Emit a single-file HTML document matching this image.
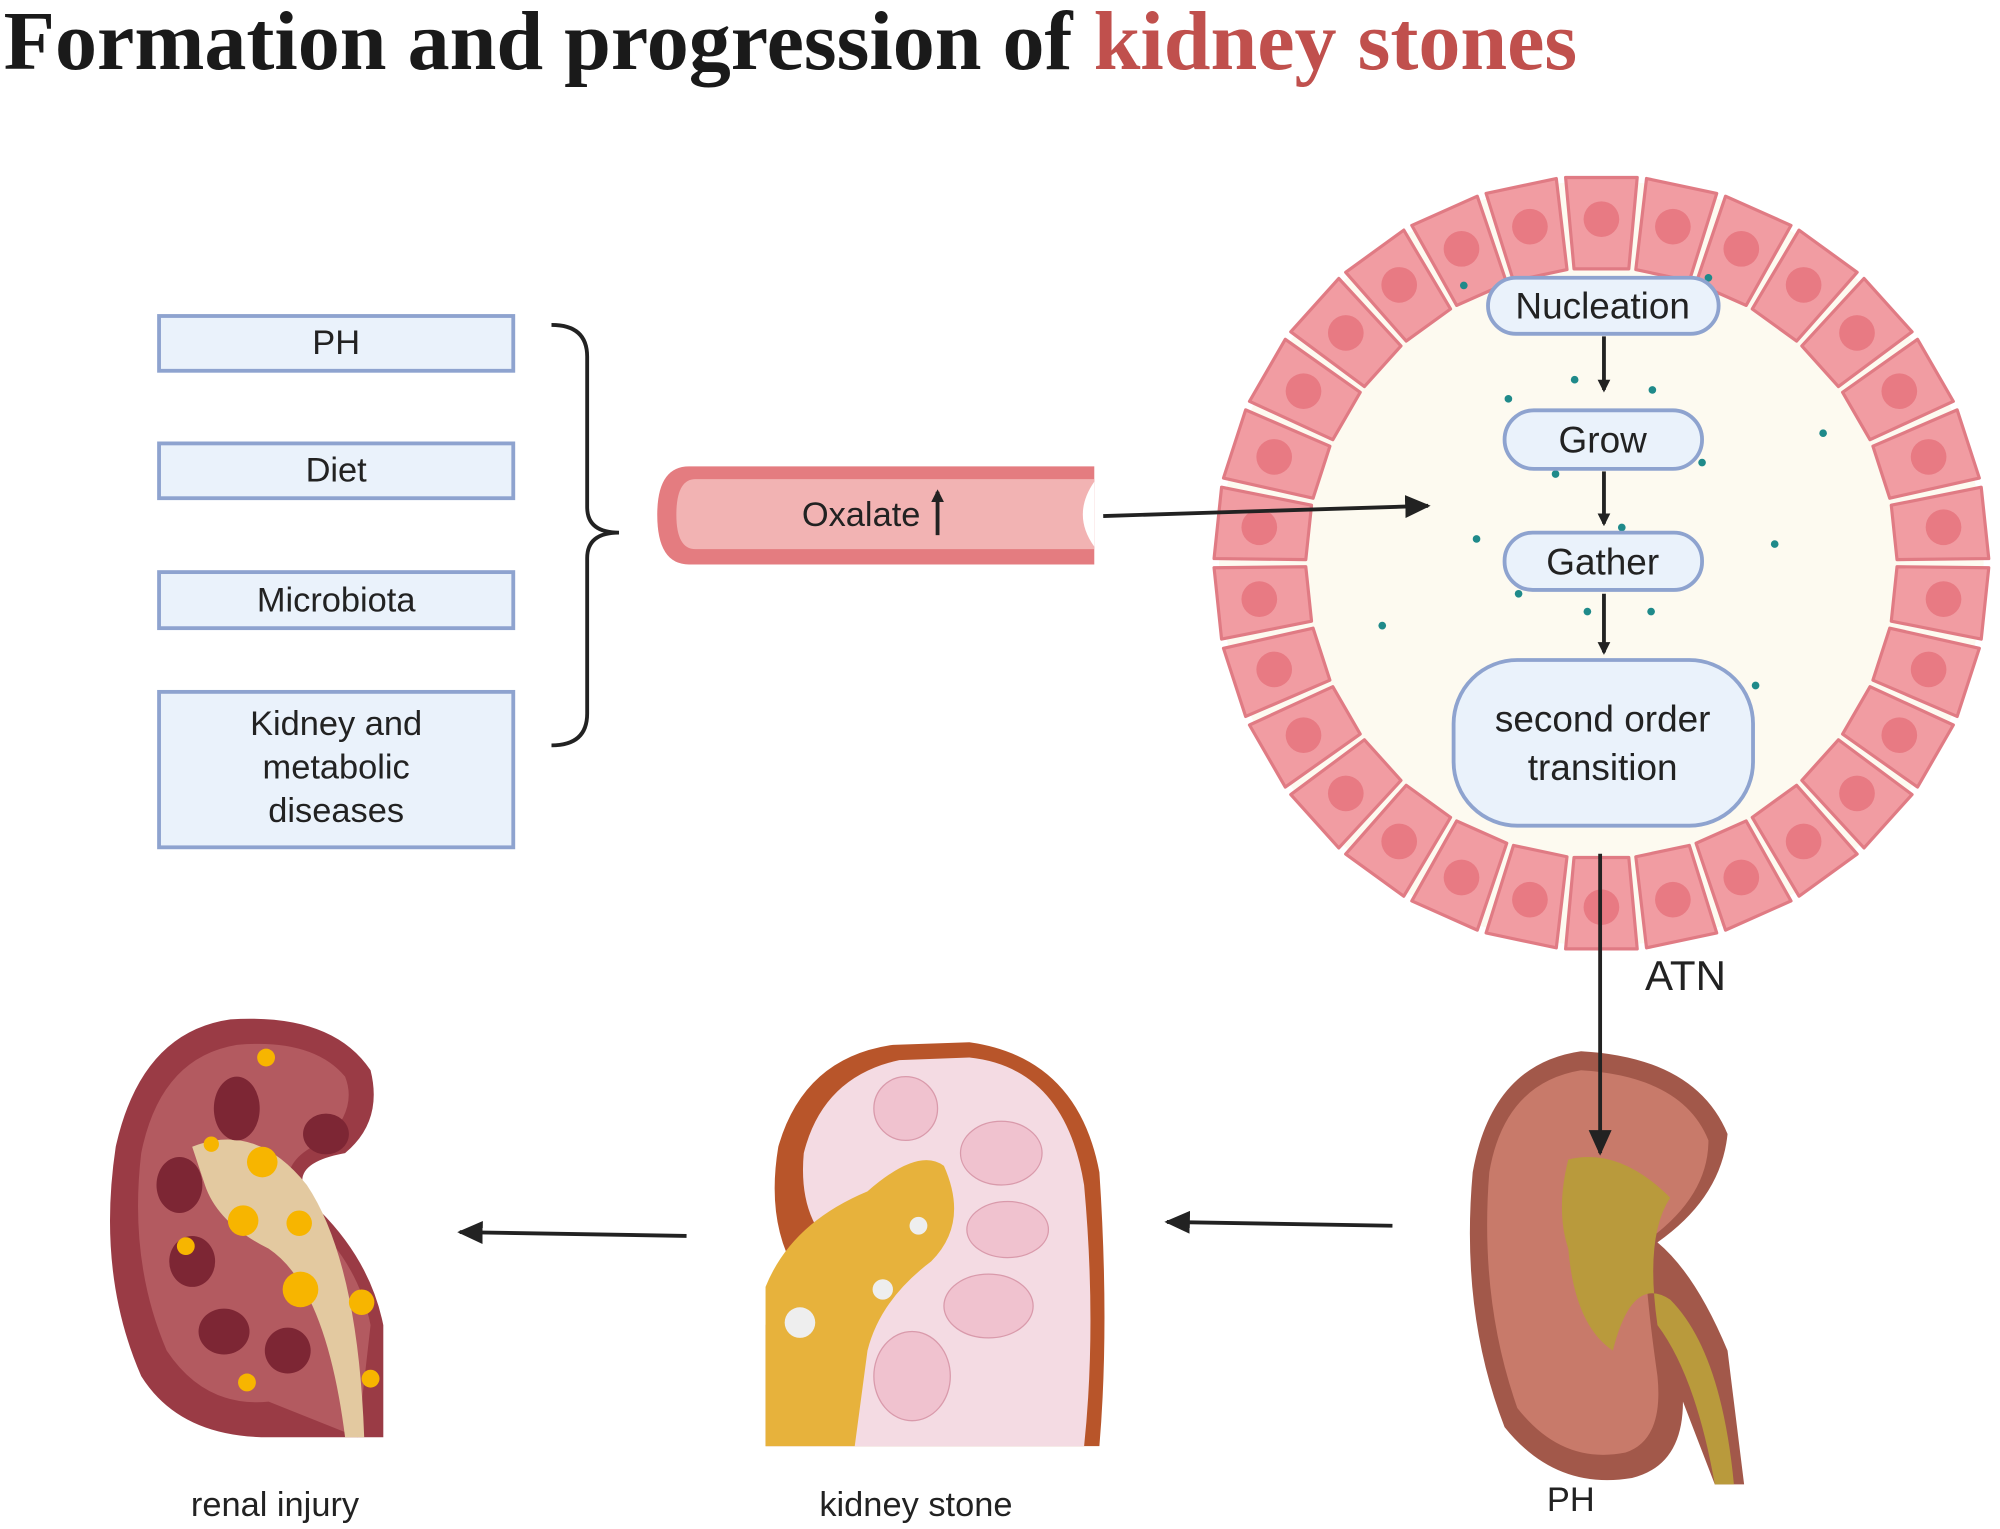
<!DOCTYPE html>
<html><head><meta charset="utf-8"><style>
html,body{margin:0;padding:0;background:#fff;}
svg{display:block;}
text{font-family:"Liberation Sans",sans-serif;}
</style></head><body>
<svg id="s" width="2000" height="1529" viewBox="0 0 1568 1200" xmlns="http://www.w3.org/2000/svg">
<defs>
<marker id="ah" markerWidth="10" markerHeight="10" refX="8" refY="5" orient="auto" markerUnits="userSpaceOnUse"><path d="M0,0 L10,5 L0,10 z" fill="#222"/></marker>
<marker id="ahb" markerWidth="20" markerHeight="18" refX="18" refY="9" orient="auto" markerUnits="userSpaceOnUse"><path d="M0,0 L20,9 L0,18 z" fill="#222"/></marker>
</defs>
<text x="2" y="54" font-weight="bold" font-size="66" fill="#1a1a1a" style="font-family:'Liberation Serif',serif">Formation and progression of <tspan fill="#c0504d">kidney stones</tspan></text>

<g fill="#eaf2fb" stroke="#8ea3cf" stroke-width="3">
<rect x="124" y="248" width="278" height="43"/>
<rect x="124" y="348" width="278" height="43"/>
<rect x="124" y="449" width="278" height="44"/>
<rect x="124" y="543" width="278" height="122"/>
</g>
<g font-size="27" fill="#222" text-anchor="middle">
<text x="263" y="278">PH</text>
<text x="263" y="378">Diet</text>
<text x="263" y="480">Microbiota</text>
<text x="263" y="577">Kidney and</text>
<text x="263" y="611">metabolic</text>
<text x="263" y="645">diseases</text>
</g>
<path d="M432,255 Q460,255 460,280 L460,398 Q460,418 485,418 Q460,418 460,438 L460,560 Q460,585 432,585" fill="none" stroke="#222" stroke-width="3"/>

<!-- vessel -->
<path d="M858,366 L540,366 Q515,366 515,404 Q515,443 540,443 L858,443 Z" fill="#e47c80"/>
<path d="M858,376 L545,376 Q530,376 530,404 Q530,431 545,431 L858,431 Z" fill="#f2b3b3"/>
<path d="M858,378 Q840,404 858,429 Z" fill="#fff"/>
<text x="675" y="413" font-size="27" fill="#222" text-anchor="middle">Oxalate</text>
<line x1="735" y1="420" x2="735" y2="386" stroke="#222" stroke-width="3" marker-end="url(#ah)"/>

<circle cx="1256" cy="442" r="300" fill="#fdfaf0"/>
<g id="cells"></g>
<g fill="#1f8a8a">
<circle cx="1148" cy="224" r="3"/><circle cx="1340" cy="218" r="3"/><circle cx="1183" cy="313" r="3"/><circle cx="1235" cy="298" r="3"/><circle cx="1296" cy="306" r="3"/><circle cx="1430" cy="340" r="3"/><circle cx="1335" cy="363" r="3"/><circle cx="1220" cy="372" r="3"/><circle cx="1272" cy="414" r="3"/><circle cx="1158" cy="423" r="3"/><circle cx="1392" cy="427" r="3"/><circle cx="1191" cy="466" r="3"/><circle cx="1245" cy="480" r="3"/><circle cx="1295" cy="480" r="3"/><circle cx="1084" cy="491" r="3"/><circle cx="1377" cy="538" r="3"/>
</g>
<g fill="#eaf2fb" stroke="#8ea3cf" stroke-width="3">
<rect x="1167" y="218" width="181" height="44" rx="22"/>
<rect x="1180" y="322" width="155" height="46" rx="23"/>
<rect x="1180" y="418" width="155" height="45" rx="22"/>
<rect x="1140" y="518" width="235" height="130" rx="50"/>
</g>
<g font-size="29" fill="#222" text-anchor="middle">
<text x="1257" y="250">Nucleation</text>
<text x="1257" y="355">Grow</text>
<text x="1257" y="451">Gather</text>
<text x="1257" y="574">second order</text>
<text x="1257" y="612">transition</text>
</g>
<text x="1322" y="777" font-size="33" fill="#222" text-anchor="middle">ATN</text>

<!-- renal injury kidney -->
<path d="M180,800 Q110,810 90,900 Q75,1000 110,1080 Q140,1128 210,1128 L300,1128 L300,1040 Q290,990 250,950 Q215,915 270,905 Q300,880 290,840 Q260,795 180,800 Z" fill="#9a3b45"/>
<path d="M185,820 Q125,830 110,905 Q100,990 130,1060 Q160,1105 210,1100 L280,1128 L290,1040 Q280,990 240,955 Q205,915 255,895 Q280,870 270,845 Q245,815 185,820 Z" fill="#b35a60"/>
<path d="M150,900 Q200,880 240,930 Q280,990 285,1128 L270,1128 Q255,1010 210,980 Q170,960 160,930 Z" fill="#e3c9a0"/>
<g fill="#7d2634"><ellipse cx="185" cy="870" rx="18" ry="25"/><ellipse cx="140" cy="930" rx="18" ry="22"/><ellipse cx="150" cy="990" rx="18" ry="20"/><ellipse cx="175" cy="1045" rx="20" ry="18"/><ellipse cx="225" cy="1060" rx="18" ry="18"/><ellipse cx="255" cy="890" rx="18" ry="16"/></g>
<g fill="#f7b500"><circle cx="208" cy="830" r="7"/><circle cx="205" cy="912" r="12"/><circle cx="190" cy="958" r="12"/><circle cx="234" cy="960" r="10"/><circle cx="235" cy="1012" r="14"/><circle cx="283" cy="1022" r="10"/><circle cx="145" cy="978" r="7"/><circle cx="193" cy="1085" r="7"/><circle cx="290" cy="1082" r="7"/><circle cx="165" cy="898" r="6"/></g>
<text x="215" y="1190" font-size="27" fill="#222" text-anchor="middle">renal injury</text>

<!-- kidney stone -->
<path d="M700,820 Q630,830 610,900 Q600,960 625,1000 L600,1040 L600,1135 L862,1135 Q870,1040 862,920 Q845,830 760,818 Z" fill="#b8552a"/>
<path d="M705,832 Q645,845 630,905 Q625,960 660,985 L640,1135 L850,1135 Q860,1040 850,930 Q835,838 760,830 Z" fill="#f4dbe3"/>
<path d="M600,1135 L600,1010 Q620,960 680,935 Q720,900 740,915 Q760,960 730,990 Q690,1020 680,1060 L670,1135 Z" fill="#e7b23c"/>
<g fill="#f0c2cf" stroke="#d99aab"><ellipse cx="710" cy="870" rx="25" ry="25"/><ellipse cx="785" cy="905" rx="32" ry="25"/><ellipse cx="790" cy="965" rx="32" ry="22"/><ellipse cx="775" cy="1025" rx="35" ry="25"/><ellipse cx="715" cy="1080" rx="30" ry="35"/></g>
<g fill="#eee"><circle cx="627" cy="1038" r="12"/><circle cx="720" cy="962" r="7"/><circle cx="692" cy="1012" r="8"/></g>
<text x="718" y="1190" font-size="27" fill="#222" text-anchor="middle">kidney stone</text>

<!-- PH kidney -->
<path d="M1240,825 Q1170,835 1155,920 Q1145,1030 1180,1120 Q1220,1170 1280,1160 Q1320,1150 1320,1100 L1345,1165 L1368,1165 L1355,1060 Q1330,1000 1300,975 Q1350,940 1355,890 Q1330,830 1240,825 Z" fill="#a2584a"/>
<path d="M1240,840 Q1180,850 1168,920 Q1160,1020 1190,1105 Q1225,1150 1275,1140 Q1305,1130 1300,1080 Q1290,1010 1290,975 Q1340,940 1340,895 Q1320,845 1240,840 Z" fill="#c87a6a"/>
<path d="M1230,910 Q1270,900 1310,940 Q1290,970 1300,1040 Q1330,1080 1345,1165 L1360,1165 Q1350,1060 1310,1020 Q1280,1000 1265,1060 Q1235,1040 1230,980 Q1220,950 1230,910 Z" fill="#b99a3c"/>
<text x="1232" y="1186" font-size="27" fill="#222" text-anchor="middle">PH</text>

<!-- arrows on top -->
<g stroke="#222" stroke-width="3">
<line x1="865" y1="405" x2="1120" y2="397" marker-end="url(#ahb)"/>
<line x1="1258" y1="264" x2="1258" y2="306" marker-end="url(#ah)"/>
<line x1="1258" y1="370" x2="1258" y2="411" marker-end="url(#ah)"/>
<line x1="1258" y1="466" x2="1258" y2="512" marker-end="url(#ah)"/>
<line x1="1255" y1="670" x2="1255" y2="905" marker-end="url(#ahb)"/>
<line x1="538" y1="970" x2="360" y2="967" marker-end="url(#ahb)"/>
<line x1="1092" y1="962" x2="915" y2="959" marker-end="url(#ahb)"/>
</g>
</svg>
<script>
(function(){
var g=document.getElementById('cells'),cx=1256,cy=442,N=30,h='';
for(var i=0;i<N;i++){
 var a0=(i/N)*2*Math.PI,a1=((i+1)/N)*2*Math.PI,r0=232,r1=304,pad=0.012;
 var p=function(r,a){return (cx+r*Math.cos(a)).toFixed(1)+','+(cy+r*Math.sin(a)).toFixed(1);};
 var A=a0+pad,B=a1-pad;
 h+='<path d="M'+p(r0,A)+' L'+p(r1,A)+' L'+p(r1,B)+' L'+p(r0,B)+' Z" fill="#f19ca2" stroke="#e07b84" stroke-width="2.5" stroke-linejoin="round"/>';
 var am=(a0+a1)/2;
 h+='<circle cx="'+(cx+270*Math.cos(am)).toFixed(1)+'" cy="'+(cy+270*Math.sin(am)).toFixed(1)+'" r="14" fill="#e87a83"/>';
}
g.innerHTML=h;
})();
</script>
</body></html>
